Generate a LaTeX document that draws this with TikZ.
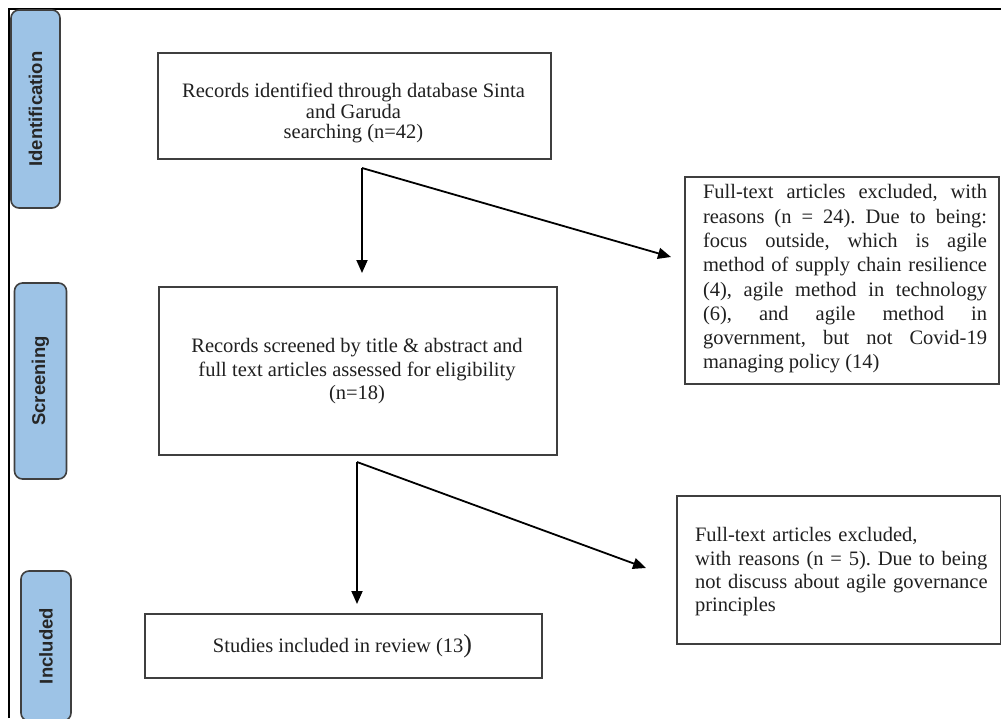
\documentclass[tikz,border=0pt]{standalone}
\usepackage{fontspec}
\setmainfont{Liberation Serif}
\newfontfamily\tabfont{Liberation Sans}
\usetikzlibrary{arrows.meta}
\definecolor{tabblue}{HTML}{9DC3E6}
\definecolor{edgegray}{HTML}{3F3F3F}
\definecolor{txtgray}{HTML}{202020}
\frenchspacing
\newcommand\jline[1]{\makebox[284pt][s]{\spaceskip=0.25em plus 1fil\relax #1}}
\begin{document}
\begin{tikzpicture}[x=1pt,y=-1pt,
  box/.style={draw=edgegray, line width=1.6pt, fill=white, inner sep=0pt, anchor=north west},
  tab/.style={draw=edgegray, line width=1.6pt, fill=tabblue, rounded corners=8pt, rotate=90,
    inner sep=0pt, font=\tabfont\bfseries\fontsize{18.5}{20}\selectfont, text=black!85},
  txt/.style={inner sep=0pt, text=txtgray, execute at begin node=\frenchspacing},
  flow/.style={line width=1.8pt, -{Triangle[length=13pt,width=11pt]}}
]
\useasboundingbox (0,0) rectangle (1001,718);
% frame
\draw[line width=2.6pt] (9,718) -- (9,9) -- (1001,9);
% stage tabs
\node[tab, minimum width=198pt, minimum height=49pt] (tabI) at (35.5,109) {Identification};
\node[tab, minimum width=196pt, minimum height=52pt] (tabS) at (40.5,381) {Screening};
\node[tab, minimum width=150pt, minimum height=50pt] (tabN) at (46,646) {Included};
% boxes
\node[box, minimum width=393pt, minimum height=106pt] (b1) at (157,52) {};
\node[box, minimum width=314pt, minimum height=207pt] (b2) at (684,176) {};
\node[box, minimum width=398pt, minimum height=168pt] (b3) at (158,286) {};
\node[box, minimum width=324pt, minimum height=148pt] (b4) at (676,495) {};
\node[box, minimum width=397pt, minimum height=64pt] (b5) at (144,613) {};
% texts
\node[txt, align=center, font=\fontsize{20.5}{20.2}\selectfont] (t1) at (353.5,113)
  {Records identified through database Sinta\\and Garuda\\searching (n=42)};
\node[txt, align=justify, text width=284pt, font=\fontsize{20.5}{24.3}\selectfont] (t2) at (845,279)
  {\jline{Full-text articles excluded, with}\\
   \jline{reasons (n = 24). Due to being:}\\
   \jline{focus outside, which is agile}\\
   \jline{method of supply chain resilience}\\
   \jline{(4), agile method in technology}\\
   \jline{(6), and agile method in}\\
   \jline{government, but not Covid-19}\\
   \makebox[284pt][l]{managing policy (14)}};
\node[txt, align=center, font=\fontsize{20.5}{23.5}\selectfont] (t3) at (357,371.5)
  {Records screened by title \& abstract and\\full text articles assessed for eligibility\\(n=18)};
\node[txt, align=left, text width=300pt, font=\fontsize{20.5}{23.3}\selectfont] (t4) at (845,572)
  {Full-text articles excluded,\\with reasons (n = 5). Due to being\\not discuss about agile governance\\principles};
\node[txt, font=\fontsize{20.5}{24}\selectfont] (t5) at (342.5,646)
  {Studies included in review (13{\fontsize{26}{26}\selectfont )}};
% connectors
\coordinate (s1) at (362,168);
\coordinate (e1a) at (362,273);
\coordinate (e1b) at (671,257);
\coordinate (s2) at (357,462);
\coordinate (e2a) at (357,604);
\coordinate (e2b) at (646,568);
\draw[flow] (s1) -- (e1a);
\draw[flow] (s1) -- (e1b);
\draw[flow] (s2) -- (e2a);
\draw[flow] (s2) -- (e2b);
\end{tikzpicture}
\end{document}
